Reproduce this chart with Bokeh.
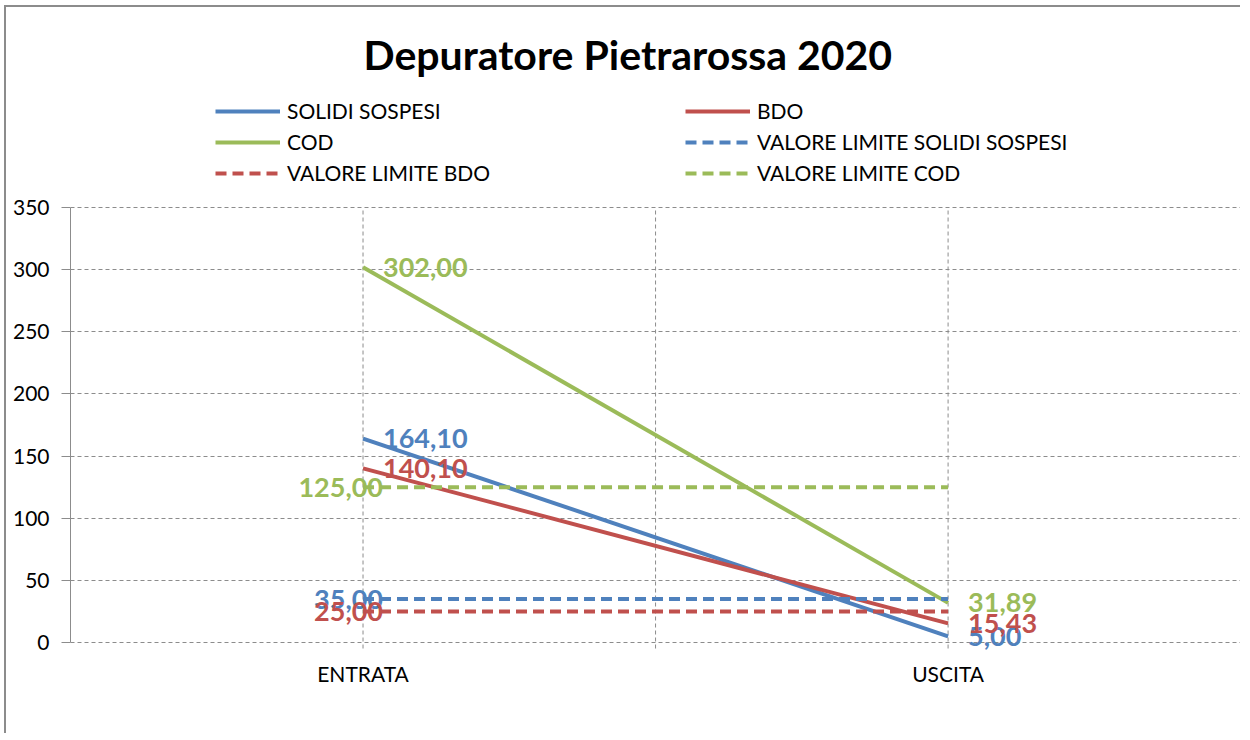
from bokeh.plotting import figure
from bokeh.models import (ColumnDataSource, Legend, LegendItem, Label,
                          FixedTicker, Range1d)
from bokeh.embed import file_html
from bokeh.resources import INLINE
from bokeh.core.properties import value

# ---------------- data ----------------
categories = ["ENTRATA", "USCITA"]
solidi_sospesi = [164.10, 5.00]
bdo = [140.10, 15.43]
cod = [302.00, 31.89]
limite_solidi = [35.00, 35.00]
limite_bdo = [25.00, 25.00]
limite_cod = [125.00, 125.00]
y_ticks = [0, 50, 100, 150, 200, 250, 300, 350]
title_text = "Depuratore Pietrarossa 2020"

# ---------------- style ----------------
BLUE = "#4F81BD"
RED = "#C0504D"
GREEN = "#9BBB59"
GRID = "#8C8C8C"
FONT = "Lato"
DASH = "11 6"


def fmt(v):
    return f"{v:.2f}".replace(".", ",")


# category slots on a numeric axis (one empty slot between/around categories)
x_pos = [2 * i for i in range(len(categories))]
x_ticks = list(range(0, 2 * len(categories)))

# geometry: value axis is 435 px tall; the frame extends to the top of the
# canvas (title + legend drawn inside it) and a little below zero so that
# data labels near zero are not clipped
W, H = 1236, 728
BOTTOM = 75
PX_PER_UNIT = 435 / (y_ticks[-1] - y_ticks[0])
EXTRA_BOTTOM = 18                      # px of frame below the zero line
TICK_OUT = 6                           # px the vertical grid lines go below zero
frame_h = H - BOTTOM
y_start = y_ticks[0] - EXTRA_BOTTOM / PX_PER_UNIT
y_end = y_start + frame_h / PX_PER_UNIT

p = figure(width=W, height=H, output_backend="svg", toolbar_location=None,
           x_range=Range1d(-1, 2 * len(categories) - 1 + 0.003),
           y_range=Range1d(y_start, y_end),
           min_border_left=64, min_border_right=1,
           min_border_top=0, min_border_bottom=BOTTOM,
           styles={"margin-left": "4px", "margin-top": "5px",
                   "border-left": "2px solid #8C8C8C",
                   "border-top": "2px solid #8C8C8C"})
p.outline_line_color = None
p.background_fill_color = "white"
p.border_fill_color = "white"

# grids
p.xgrid.visible = False
p.ygrid.ticker = FixedTicker(ticks=y_ticks)
p.ygrid.grid_line_color = GRID
p.ygrid.grid_line_dash = "4 3"
p.ygrid.grid_line_width = 1
# vertical grid lines limited to the value range (plus small tick below zero)
p.segment(x0=x_ticks, y0=[y_ticks[0] - TICK_OUT / PX_PER_UNIT] * len(x_ticks),
          x1=x_ticks, y1=[y_ticks[-1]] * len(x_ticks),
          line_color=GRID, line_dash="4 3", line_width=1)

# x axis (labels only)
p.xaxis.ticker = FixedTicker(ticks=x_ticks)
p.xaxis.major_label_overrides = {t: "" for t in x_ticks}
p.xaxis.major_label_overrides.update({x: c for x, c in zip(x_pos, categories)})
p.xaxis.axis_line_color = None
p.xaxis.major_tick_line_color = None
p.xaxis.major_tick_out = 0
p.xaxis.major_tick_in = 0
p.xaxis.minor_tick_line_color = None
p.xaxis.major_label_text_font = FONT
p.xaxis.major_label_text_font_size = "21px"
p.xaxis.major_label_text_color = "#000000"
p.xaxis.major_label_standoff = 0

# y axis
p.yaxis.ticker = FixedTicker(ticks=y_ticks)
p.yaxis.bounds = (y_ticks[0], y_ticks[-1])
p.yaxis.axis_line_color = GRID
p.yaxis.axis_line_width = 1
p.yaxis.major_tick_line_color = GRID
p.yaxis.major_tick_out = 9
p.yaxis.major_tick_in = 0
p.yaxis.minor_tick_line_color = None
p.yaxis.major_label_text_font = FONT
p.yaxis.major_label_text_font_size = "21px"
p.yaxis.major_label_text_color = "#000000"
p.yaxis.major_label_standoff = 12

# ---------------- series ----------------
r_ss = p.line(x_pos, solidi_sospesi, line_color=BLUE, line_width=4)
r_bdo = p.line(x_pos, bdo, line_color=RED, line_width=4)
r_cod = p.line(x_pos, cod, line_color=GREEN, line_width=4)
r_lss = p.line(x_pos, limite_solidi, line_color=BLUE, line_width=4, line_dash=DASH)
r_lbdo = p.line(x_pos, limite_bdo, line_color=RED, line_width=4, line_dash=DASH)
r_lcod = p.line(x_pos, limite_cod, line_color=GREEN, line_width=4, line_dash=DASH)

# data labels (series values, right of points)
main_src = ColumnDataSource(dict(
    x=x_pos * 3,
    y=solidi_sospesi + bdo + cod,
    text=[fmt(v) for v in solidi_sospesi + bdo + cod],
    color=[BLUE] * len(x_pos) + [RED] * len(x_pos) + [GREEN] * len(x_pos),
))
p.text(x="x", y="y", text="text", text_color="color", source=main_src,
       x_offset=20, text_align="left", text_baseline="middle",
       text_font=value(FONT), text_font_style="bold", text_font_size="27px")

# limit labels only at the first category
lim_vals = [limite_cod[0], limite_solidi[0], limite_bdo[0]]
lim_src = ColumnDataSource(dict(
    x=[x_pos[0]] * 3,
    y=lim_vals,
    text=[fmt(v) for v in lim_vals],
    color=[GREEN, BLUE, RED],
))
p.text(x="x", y="y", text="text", text_color="color", source=lim_src,
       x_offset=20, text_align="right", text_baseline="middle",
       text_font=value(FONT), text_font_style="bold", text_font_size="27px")

# ---------------- legend (two columns) ----------------
common = dict(orientation="vertical", glyph_width=65, glyph_height=24,
              label_height=24, label_standoff=7, spacing=6, padding=0,
              margin=0, border_line_alpha=0, background_fill_alpha=0,
              label_text_font=FONT, label_text_font_size="21px",
              label_text_color="#000000")
leg1 = Legend(items=[LegendItem(label="SOLIDI SOSPESI", renderers=[r_ss]),
                     LegendItem(label="COD", renderers=[r_cod]),
                     LegendItem(label="VALORE LIMITE BDO", renderers=[r_lbdo])],
              location=(145, 475), **common)
leg2 = Legend(items=[LegendItem(label="BDO", renderers=[r_bdo]),
                     LegendItem(label="VALORE LIMITE SOLIDI SOSPESI", renderers=[r_lss]),
                     LegendItem(label="VALORE LIMITE COD", renderers=[r_lcod])],
              location=(615, 475), **common)
p.add_layout(leg1)
p.add_layout(leg2)

# ---------------- title ----------------
p.add_layout(Label(x=293, y=606, x_units="screen", y_units="screen",
                   text=title_text, text_font=FONT, text_font_style="bold",
                   text_font_size="41px", text_color="#000000",
                   text_align="left", text_baseline="alphabetic"))

open("out.html", "w").write(file_html(p, INLINE))
